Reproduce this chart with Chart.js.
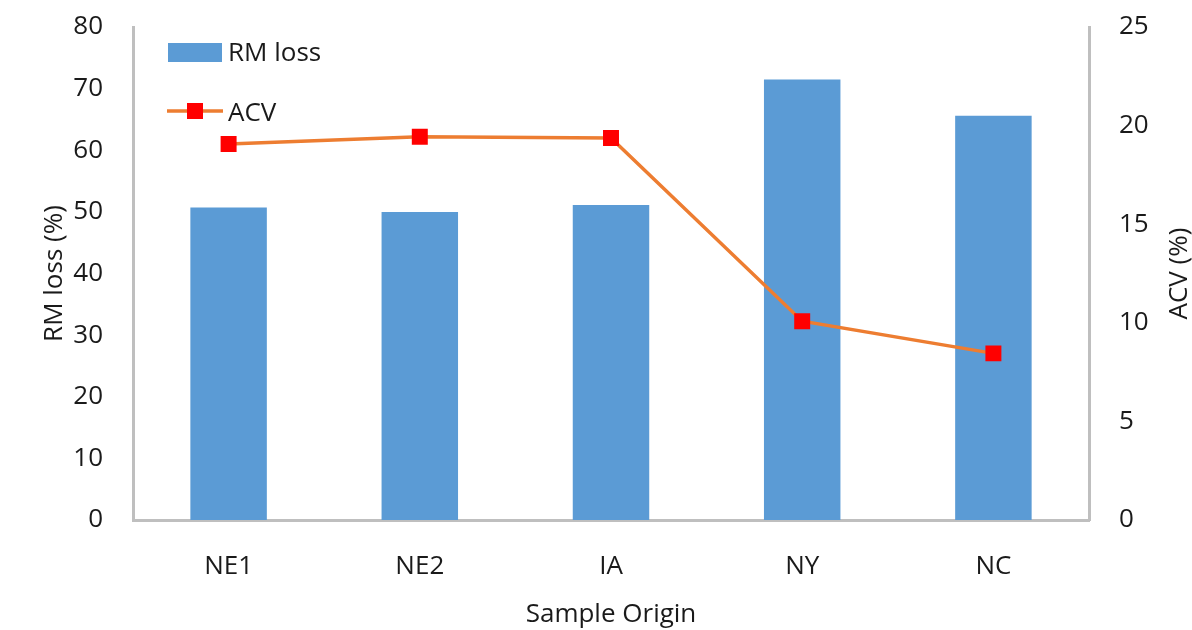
<!DOCTYPE html>
<html>
<head>
<meta charset="utf-8">
<script src="https://cdn.jsdelivr.net/npm/chart.js@4/dist/chart.umd.min.js"></script>
<style>
  html, body { margin: 0; padding: 0; background: #fff; }
  #wrap { width: 1192px; height: 630px; }
</style>
</head>
<body>
<div id="wrap"><canvas id="c" width="1192" height="630"></canvas></div>
<script>
// Sample origins and measured values
const categories = ['NE1', 'NE2', 'IA', 'NY', 'NC'];
const rmLoss = [50.7, 50.0, 51.1, 71.5, 65.6];   // RM loss (%)
const acv = [19.07, 19.44, 19.37, 10.08, 8.45];   // ACV (%)
const leftTicks = [0, 10, 20, 30, 40, 50, 60, 70, 80];
const rightTicks = [0, 5, 10, 15, 20, 25];
const rightTitle = 'ACV (%)';

const FONT = "'Open Sans', 'DejaVu Sans', sans-serif";
const AXIS_GRAY = '#bfbfbf';
const TEXT = '#1a1a1a';

// Legend drawn inside the plot area, top-left
const innerLegend = {
  id: 'innerLegend',
  afterDraw(chart) {
    const { ctx, chartArea } = chart;
    const bar = chart.data.datasets[0];
    const line = chart.data.datasets[1];
    const x0 = chartArea.left + 35;
    ctx.save();
    ctx.font = '26px ' + FONT;
    ctx.textBaseline = 'middle';
    // bar entry
    ctx.fillStyle = bar.backgroundColor;
    ctx.fillRect(x0, chartArea.top + 16, 54, 19);
    ctx.fillStyle = TEXT;
    ctx.fillText(bar.label, x0 + 60, chartArea.top + 27);
    // line entry
    const ly = chartArea.top + 84;
    ctx.strokeStyle = line.borderColor;
    ctx.lineWidth = line.borderWidth;
    ctx.beginPath();
    ctx.moveTo(x0 - 1, ly);
    ctx.lineTo(x0 + 55, ly);
    ctx.stroke();
    ctx.fillStyle = line.pointBackgroundColor;
    ctx.fillRect(x0 + 19, ly - 8, 16, 16);
    ctx.fillStyle = TEXT;
    ctx.fillText(line.label, x0 + 60, ly + 3);
    ctx.restore();
  }
};

// Right-axis title, reading bottom to top
const rightAxisTitle = {
  id: 'rightAxisTitle',
  afterDraw(chart) {
    const { ctx, chartArea } = chart;
    const s = chart.scales.y1;
    ctx.save();
    ctx.translate(s.right - 12, (chartArea.top + chartArea.bottom) / 2);
    ctx.rotate(-Math.PI / 2);
    ctx.font = '26px ' + FONT;
    ctx.fillStyle = TEXT;
    ctx.textAlign = 'center';
    ctx.textBaseline = 'middle';
    ctx.fillText(rightTitle, 0, 0);
    ctx.restore();
  }
};

new Chart(document.getElementById('c'), {
  data: {
    labels: categories,
    datasets: [
      {
        type: 'bar',
        label: 'RM loss',
        data: rmLoss,
        yAxisID: 'y',
        backgroundColor: '#5B9BD5',
        borderWidth: 0,
        barPercentage: 0.4,
        categoryPercentage: 1.0,
        order: 2
      },
      {
        type: 'line',
        label: 'ACV',
        data: acv,
        yAxisID: 'y1',
        borderColor: '#ED7D31',
        borderWidth: 3.5,
        pointStyle: 'rect',
        pointRadius: 11.3,
        pointBackgroundColor: '#FF0000',
        pointBorderColor: '#FF0000',
        pointBorderWidth: 0,
        tension: 0,
        order: 1
      }
    ]
  },
  options: {
    responsive: false,
    animation: false,
    events: [],
    layout: { padding: { top: 27, right: 0, left: 0, bottom: 0 } },
    plugins: { legend: { display: false }, tooltip: { enabled: false } },
    scales: {
      x: {
        grid: { display: false, drawTicks: false },
        border: { display: true, color: AXIS_GRAY, width: 3 },
        ticks: { color: TEXT, font: { family: FONT, size: 26 }, padding: 31 },
        title: { display: true, text: 'Sample Origin', color: TEXT,
                 font: { family: FONT, size: 26, lineHeight: 1 }, padding: { bottom: 2 } },
        afterFit(s) { s.height = 110; s.paddingLeft = 0; s.paddingRight = 0; }
      },
      y: {
        position: 'left',
        min: 0, max: 80,
        afterBuildTicks(s) { s.ticks = leftTicks.map(v => ({ value: v })); },
        grid: { display: false, drawTicks: false },
        border: { display: true, color: AXIS_GRAY, width: 3 },
        ticks: { color: TEXT, font: { family: FONT, size: 26 }, padding: 30 },
        title: { display: true, text: 'RM loss (%)', color: TEXT,
                 font: { family: FONT, size: 26, lineHeight: 1 }, padding: { top: 42 } },
        afterFit(s) { s.width = 133; s.paddingTop = 0; s.paddingBottom = 0; }
      },
      y1: {
        position: 'right',
        min: 0, max: 25,
        afterBuildTicks(s) { s.ticks = rightTicks.map(v => ({ value: v })); },
        grid: { display: false, drawTicks: false },
        border: { display: true, color: AXIS_GRAY, width: 3 },
        ticks: { color: TEXT, font: { family: FONT, size: 26 }, padding: 30 },
        title: { display: false },
        afterFit(s) { s.width = 103; s.paddingTop = 0; s.paddingBottom = 0; }
      }
    }
  },
  plugins: [innerLegend, rightAxisTitle]
});
</script>
</body>
</html>
